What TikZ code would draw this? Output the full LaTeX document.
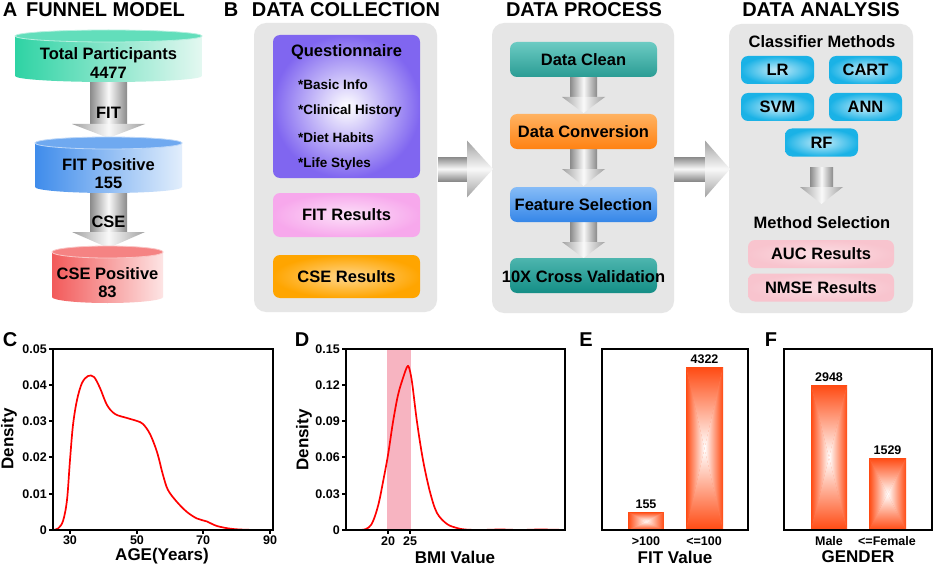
\documentclass[tikz,border=0pt]{standalone}
\usepackage{fontspec}
\setmainfont{Liberation Sans}
\usetikzlibrary{calc}
\definecolor{panelgray}{HTML}{E6E6E6}
\definecolor{arrgray}{HTML}{8A8A8A}
\definecolor{tealA}{HTML}{2ED3A4}
\definecolor{tealB}{HTML}{E4F8F1}
\definecolor{blueA}{HTML}{3F8CEB}
\definecolor{blueB}{HTML}{E2EEFC}
\definecolor{redA}{HTML}{F25A5A}
\definecolor{redB}{HTML}{FDE4E4}
\definecolor{purp}{HTML}{8066F0}
\definecolor{pinkq}{HTML}{F7A8EC}
\definecolor{orq}{HTML}{FFA500}
\definecolor{cleanA}{HTML}{6CCBC3}
\definecolor{cleanB}{HTML}{2A9C94}
\definecolor{convA}{HTML}{FFB261}
\definecolor{convB}{HTML}{FF8212}
\definecolor{featA}{HTML}{86BCF7}
\definecolor{featB}{HTML}{3586E8}
\definecolor{crossA}{HTML}{4DB5AE}
\definecolor{crossB}{HTML}{148E86}
\definecolor{cyanb}{HTML}{1AB2E6}
\definecolor{pinka}{HTML}{F8C4CE}
\definecolor{barc}{HTML}{FF4A12}
\definecolor{bandc}{HTML}{F7B4C1}
\tikzset{
  ttl/.style={font=\fontsize{20}{22}\selectfont\bfseries, inner sep=0pt},
  bt/.style={font=\fontsize{16.5}{18}\selectfont\bfseries, inner sep=0pt},
  st/.style={font=\fontsize{13.5}{15}\selectfont\bfseries, inner sep=0pt},
  tk/.style={font=\fontsize{12.5}{14}\selectfont\bfseries, inner sep=0pt},
  axt/.style={font=\fontsize{17}{19}\selectfont\bfseries, inner sep=0pt},
  rbox/.style={rounded corners=7pt, inner sep=0pt, draw=none},
  procbox/.style={rbox, minimum width=147pt, minimum height=35pt},
  cbox/.style={rbox, minimum width=73pt, minimum height=28pt, inner color=cyanb!25!white, outer color=cyanb},
  pbox/.style={rbox, minimum width=146pt, minimum height=28pt, inner color=pinka!55!white, outer color=pinka},
  axis/.style={line width=1.7pt, black},
  curve/.style={line width=1.7pt, red, line join=round},
}
\newcommand\cyl[6]{%
  \shade[left color=#5, right color=#6] (#1-#4,#2) -- (#1-#4,#3) arc[start angle=180,end angle=360,x radius=#4pt,y radius=6pt] -- (#1+#4,#2) -- cycle;
  \fill[#5!75!white, draw=#5!35!white, line width=0.8pt] (#1,#2) ellipse[x radius=#4pt, y radius=6pt];
}
\newcommand\varrow[6]{%
  \shade[left color=arrgray, right color=arrgray, middle color=white!95!gray] (#1-#5,#2) rectangle (#1+#5,#3);
  \shade[left color=arrgray!80, right color=arrgray!80, middle color=white!95!gray] (#1-#6,#3) -- (#1+#6,#3) -- (#1,#4) -- cycle;
}
\newcommand\harrow[6]{%
  \shade[top color=arrgray, bottom color=arrgray, middle color=white!95!gray] (#2,#1-#5) rectangle (#3,#1+#5);
  \shade[top color=arrgray!80, bottom color=arrgray!80, middle color=white!95!gray] (#3,#1-#6) -- (#3,#1+#6) -- (#4,#1) -- cycle;
}
\newcommand\pbar[4]{%
  \pgfmathsetmacro\cxx{(#1+#3)/2}\pgfmathsetmacro\cyy{(#2+#4)/2}
  \fill[barc!70!white] (#1,#2) rectangle (#3,#4);
  \shade[top color=barc, bottom color=white] (#1,#2) -- (#3,#2) -- (\cxx,\cyy) -- cycle;
  \shade[top color=white, bottom color=barc] (#1,#4) -- (#3,#4) -- (\cxx,\cyy) -- cycle;
  \shade[left color=barc, right color=white] (#1,#2) -- (#1,#4) -- (\cxx,\cyy) -- cycle;
  \shade[left color=white, right color=barc] (#3,#2) -- (#3,#4) -- (\cxx,\cyy) -- cycle;
}
\begin{document}
\begin{tikzpicture}[x=1pt,y=-1pt]
\useasboundingbox (0,0) rectangle (934,567);
\fill[white] (0,0) rectangle (934,567);

% ---------- titles ----------
\node[ttl] (tA) at (10,10) {A};
\node[ttl] (tfun) at (105.5,10) {FUNNEL MODEL};
\node[ttl] (tB) at (231,10) {B};
\node[ttl] (tcol) at (346,10) {DATA COLLECTION};
\node[ttl] (tpro) at (584,10) {DATA PROCESS};
\node[ttl] (tana) at (821,10) {DATA ANALYSIS};

% ---------- A funnel ----------
\varrow{108.5}{76}{124}{138}{18.5}{36.5}
\varrow{108.5}{187}{232}{248}{18.5}{36.5}
\cyl{108.5}{36}{76}{93.5}{tealA}{tealB}
\cyl{108.5}{143}{187}{73.5}{blueA}{blueB}
\cyl{107.5}{252}{297}{55.5}{redA}{redB}
\node[bt] (c1a) at (108.5,55) {Total Participants};
\node[bt] (c1b) at (108.5,73) {4477};
\node[bt] (c2a) at (108.5,165) {FIT Positive};
\node[bt] (c2b) at (108.5,183) {155};
\node[bt] (c3a) at (107.5,274) {CSE Positive};
\node[bt] (c3b) at (107.5,292) {83};
\node[bt] (afit) at (108.5,113) {FIT};
\node[bt] (acse) at (108.5,222) {CSE};

% ---------- gray panels ----------
\fill[panelgray, rounded corners=12pt] (254,23) rectangle (437,312);
\fill[panelgray, rounded corners=12pt] (492,23) rectangle (674,313);
\fill[panelgray, rounded corners=12pt] (729,24) rectangle (913,313);

% big arrows
\harrow{169}{438}{467}{493}{12}{28.5}
\harrow{169}{674}{705}{730}{12}{28.5}

% ---------- data collection ----------
\node[rbox, minimum width=147pt, minimum height=143pt, inner color=white, outer color=purp] (quest) at (346.5,106.5) {};
\node[bt] (qt) at (346.5,52) {Questionnaire};
\node[st, anchor=west] (q1) at (298,85) {*Basic Info};
\node[st, anchor=west] (q2) at (298,111) {*Clinical History};
\node[st, anchor=west] (q3) at (298,138) {*Diet Habits};
\node[st, anchor=west] (q4) at (298,164) {*Life Styles};
\node[rbox, minimum width=147pt, minimum height=44pt, inner color=pinkq!35!white, outer color=pinkq] (fitres) at (346.5,215) {};
\node[bt] at (fitres) {FIT Results};
\node[rbox, minimum width=147pt, minimum height=43pt, inner color=orq!45!white, outer color=orq] (cseres) at (346.5,276.5) {};
\node[bt] at (cseres) {CSE Results};

% ---------- data process ----------
\varrow{583.5}{77}{97}{113}{13.5}{21.5}
\varrow{583.5}{149}{169}{186}{13.5}{21.5}
\varrow{583.5}{222}{242}{258}{13.5}{21.5}
\node[procbox, top color=cleanA, bottom color=cleanB] (clean) at (583.5,59.5) {};
\node[bt] at (clean) {Data Clean};
\node[procbox, top color=convA, bottom color=convB] (conv) at (583.5,131.5) {};
\node[bt] at (conv) {Data Conversion};
\node[procbox, top color=featA, bottom color=featB] (feat) at (583.5,204.5) {};
\node[bt] at (feat) {Feature Selection};
\node[procbox, top color=crossA, bottom color=crossB] (cross) at (583.5,275.5) {};
\node[bt] at (583.5,277) {10X Cross Validation};

% ---------- data analysis ----------
\node[bt] (clm) at (822,42) {Classifier Methods};
\node[cbox] (lr) at (777.5,70) {};
\node[bt] at (lr) {LR};
\node[cbox] (cart) at (865.5,70) {};
\node[bt] at (cart) {CART};
\node[cbox] (svm) at (777.5,107) {};
\node[bt] at (svm) {SVM};
\node[cbox] (ann) at (865.5,107) {};
\node[bt] at (ann) {ANN};
\node[cbox] (rf) at (821.5,142.5) {};
\node[bt] at (rf) {RF};
\varrow{821.5}{167}{187}{204}{11.5}{21.5}
\node[bt] (msel) at (822,223) {Method Selection};
\node[pbox] (auc) at (821,254) {};
\node[bt] at (auc) {AUC Results};
\node[pbox] (nmse) at (821,287.5) {};
\node[bt] at (nmse) {NMSE Results};

% ---------- C ----------
\node[ttl] (tC) at (10,340) {C};
\draw[curve] plot[smooth, tension=0.55] coordinates {(53,530) (58,528.5) (63,521) (67,500) (70,460) (73,425) (77,400) (82,383) (88,376) (94,377) (100,388) (107,405) (115,414) (127,418) (137,421) (143,424) (150,434) (157,452) (163,475) (168,490) (177,502) (187,512) (197,518.5) (207,521.5) (217,526) (233,529) (255,530) (273,530)};
\draw[axis] (53,349) rectangle (273,530);
\foreach \yy/\lab in {349/0.05,385/0.04,421/0.03,457/0.02,494/0.01,530/0}{
  \draw[axis, line width=1.2pt] (49,\yy) -- (53,\yy);
  \node[tk, anchor=east] at (47,\yy) {\lab};
}
\foreach \xx/\lab in {70/30,137/50,203/70,270/90}{
  \draw[axis, line width=1.2pt] (\xx,530) -- (\xx,534);
  \node[tk] at (\xx,540) {\lab};
}
\node[axt, rotate=90] (ylC) at (9,439) {Density};
\node[axt] (xlC) at (162,556) {AGE(Years)};

% ---------- D ----------
\node[ttl] (tD) at (302,340) {D};
\fill[bandc] (387,349) rectangle (411,530);
\draw[curve] plot[smooth, tension=0.55] coordinates {(346,530) (360,530) (366,529) (371,525) (375,516) (379,502) (383,482) (388,455) (393,422) (398,395) (403,378) (407,367) (409,367.5) (412,382) (417,422) (423,460) (430,492) (437,513) (447,524) (457,528) (465,529.5) (480,530) (500,529.5) (520,530) (540,529.5) (565,530)};
\draw[axis] (346,349) rectangle (565,530);
\foreach \yy/\lab in {349/0.15,385/0.12,421/0.09,457/0.06,494/0.03,530/0}{
  \draw[axis, line width=1.2pt] (342,\yy) -- (346,\yy);
  \node[tk, anchor=east] at (340,\yy) {\lab};
}
\foreach \xx/\lab in {388/20,410/25}{
  \draw[axis, line width=1.2pt] (\xx,530) -- (\xx,534);
  \node[tk] at (\xx,541) {\lab};
}
\node[axt, rotate=90] (ylD) at (304,440) {Density};
\node[axt] (xlD) at (455,557) {BMI Value};

% ---------- E ----------
\node[ttl] (tE) at (586,340) {E};
\pbar{628}{512}{664}{530}
\pbar{686}{367}{723}{530}
\draw[axis] (602,349) rectangle (748,530);
\node[tk] (e1) at (646,504) {155};
\node[tk] (e2) at (704.5,359) {4322};
\node[tk] (e3) at (646,541) {>100};
\node[tk] (e4) at (704,541) {<=100};
\node[axt] (xlE) at (675,557) {FIT Value};

% ---------- F ----------
\node[ttl] (tF) at (771,340) {F};
\pbar{811}{385}{847}{530}
\pbar{869}{458}{906}{530}
\draw[axis] (784,349) rectangle (932,530);
\node[tk] (f1) at (829,377) {2948};
\node[tk] (f2) at (887.5,450) {1529};
\node[tk] (f3) at (829,541) {Male};
\node[tk] (f4) at (887,541) {<=Female};
\node[axt] (xlF) at (858,557) {GENDER};
\end{tikzpicture}
\end{document}
